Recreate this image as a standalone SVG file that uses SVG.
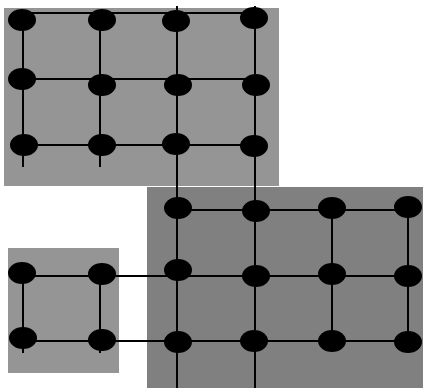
<svg xmlns="http://www.w3.org/2000/svg" width="423" height="388" viewBox="0 0 423 388">
<style>
.bg1{fill:#959595}
.bg2{fill:#808080}
.c line{stroke:#000;stroke-width:2}
.n ellipse{fill:#000}
</style>
<rect width="423" height="388" fill="#fff"/>
<g id="regions">
<rect class="bg1" x="4" y="8" width="275" height="178"/>
<rect class="bg2" x="147" y="187" width="276" height="201"/>
<rect class="bg1" x="8" y="248" width="111" height="125"/>
</g>
<g id="connectors" class="c">
<line x1="22" y1="13" x2="254" y2="13"/>
<line x1="22" y1="79" x2="256" y2="79"/>
<line x1="24" y1="145" x2="254" y2="145"/>
<line x1="23" y1="20" x2="23" y2="167"/>
<line x1="100" y1="20" x2="100" y2="167"/>
<line x1="177" y1="6" x2="177" y2="388"/>
<line x1="255" y1="6" x2="255" y2="388"/>
<line x1="178" y1="210" x2="408" y2="210"/>
<line x1="22" y1="276" x2="408" y2="276"/>
<line x1="23" y1="341" x2="408" y2="341"/>
<line x1="332" y1="208" x2="332" y2="341"/>
<line x1="408" y1="207" x2="408" y2="342"/>
<line x1="23" y1="273" x2="23" y2="353"/>
<line x1="100" y1="274" x2="100" y2="353"/>
</g>
<g class="n">
<g id="a1"><ellipse cx="22" cy="20" rx="14" ry="11"/></g>
<g id="a2"><ellipse cx="102" cy="20" rx="14" ry="11"/></g>
<g id="a3"><ellipse cx="176" cy="21" rx="14" ry="11"/></g>
<g id="a4"><ellipse cx="254" cy="18" rx="14" ry="11"/></g>
<g id="a5"><ellipse cx="22" cy="79" rx="14" ry="11"/></g>
<g id="a6"><ellipse cx="102" cy="85" rx="14" ry="11"/></g>
<g id="a7"><ellipse cx="178" cy="85" rx="14" ry="11"/></g>
<g id="a8"><ellipse cx="256" cy="85" rx="14" ry="11"/></g>
<g id="a9"><ellipse cx="24" cy="145" rx="14" ry="11"/></g>
<g id="a10"><ellipse cx="102" cy="145" rx="14" ry="11"/></g>
<g id="a11"><ellipse cx="176" cy="144" rx="14" ry="11"/></g>
<g id="a12"><ellipse cx="254" cy="146" rx="14" ry="11"/></g>
<g id="b1"><ellipse cx="178" cy="208" rx="14" ry="11"/></g>
<g id="b2"><ellipse cx="256" cy="211" rx="14" ry="11"/></g>
<g id="b3"><ellipse cx="332" cy="208" rx="14" ry="11"/></g>
<g id="b4"><ellipse cx="408" cy="207" rx="14" ry="11"/></g>
<g id="b5"><ellipse cx="178" cy="270" rx="14" ry="11"/></g>
<g id="b6"><ellipse cx="256" cy="276" rx="14" ry="11"/></g>
<g id="b7"><ellipse cx="332" cy="274" rx="14" ry="11"/></g>
<g id="b8"><ellipse cx="408" cy="276" rx="14" ry="11"/></g>
<g id="b9"><ellipse cx="178" cy="342" rx="14" ry="11"/></g>
<g id="b10"><ellipse cx="254" cy="341" rx="14" ry="11"/></g>
<g id="b11"><ellipse cx="332" cy="341" rx="14" ry="11"/></g>
<g id="b12"><ellipse cx="408" cy="342" rx="14" ry="11"/></g>
<g id="c1"><ellipse cx="22" cy="273" rx="14" ry="11"/></g>
<g id="c2"><ellipse cx="102" cy="274" rx="14" ry="11"/></g>
<g id="c3"><ellipse cx="23" cy="338" rx="14" ry="11"/></g>
<g id="c4"><ellipse cx="102" cy="340" rx="14" ry="11"/></g>
</g>
</svg>
